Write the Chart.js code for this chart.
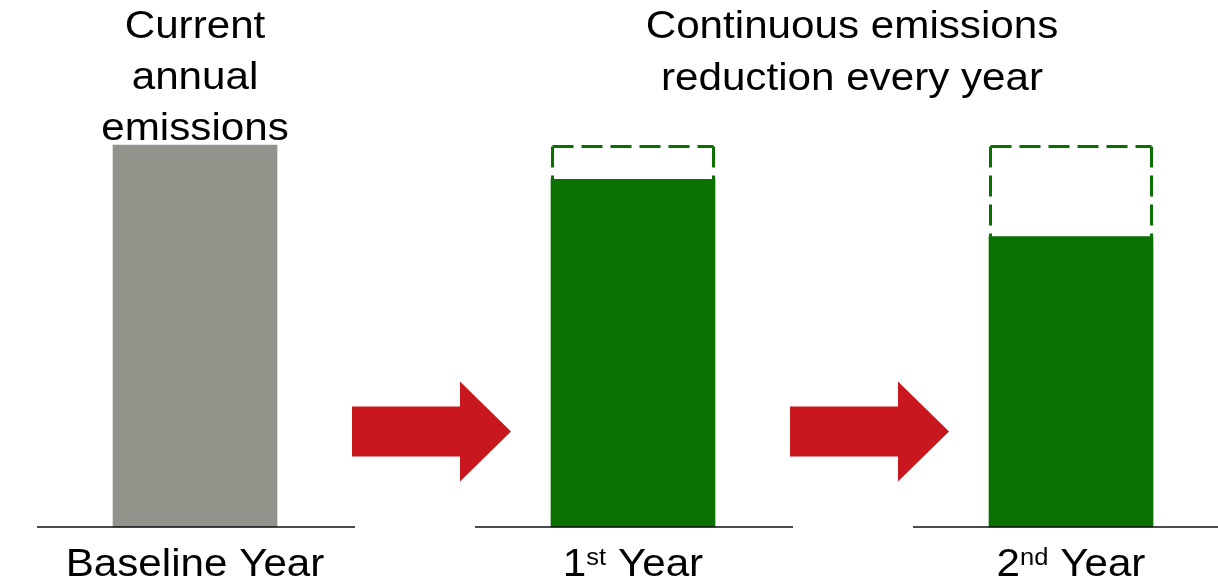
<!DOCTYPE html>
<html>
<head>
<meta charset="utf-8">
<script src="https://cdn.jsdelivr.net/npm/chart.js@4/dist/chart.umd.min.js"></script>
<style>
  html, body { margin: 0; padding: 0; background: #fff; overflow: hidden; }
</style>
</head>
<body>
<canvas id="chart" width="1218" height="584"></canvas>
<script>
// Data
const categories = ["Baseline Year", "1st Year", "2nd Year"];
const emissions = [100, 91, 76];
const baselineLevel = [null, 100, 100];
const leftTitle = ["Current", "annual", "emissions"];
const rightTitle = ["Continuous emissions", "reduction every year"];
const arrowLevel = 25;

// Colors
const grey = "#93938b";
const green = "#0a7000";
const red = "#c8171e";
const FONT = '"Liberation Sans", Arial, sans-serif';
const STRETCH = 1.11; // source text is a little wider than Liberation Sans

// draw text with a slight horizontal stretch, x = left edge
function wideText(ctx, txt, x, y) {
  ctx.save();
  ctx.translate(x, y);
  ctx.scale(STRETCH, 1);
  ctx.fillText(txt, 0, 0);
  ctx.restore();
}

const outlinePlugin = {
  id: "outline",
  beforeDatasetsDraw(chart) {
    // dashed outline showing where the baseline was
    const ctx = chart.ctx;
    const ref = chart.getDatasetMeta(1).data;
    const bars = chart.getDatasetMeta(0).data;
    ctx.save();
    ctx.strokeStyle = green;
    ctx.lineWidth = 3;
    ctx.setLineDash([21, 8]);
    ref.forEach((el, i) => {
      if (baselineLevel[i] == null) return;
      const l = el.x - el.width / 2 + 1.5;
      const r = el.x + el.width / 2 - 1.5;
      const t = el.y + 1.5;
      const b = bars[i].y;
      ctx.beginPath();
      ctx.moveTo(l, t); ctx.lineTo(r, t);
      ctx.stroke();
      ctx.beginPath();
      ctx.moveTo(l, t); ctx.lineTo(l, b);
      ctx.stroke();
      ctx.beginPath();
      ctx.moveTo(r, t); ctx.lineTo(r, b);
      ctx.stroke();
    });
    ctx.restore();
  },
  afterDraw(chart) {
    const ctx = chart.ctx;
    const xs = chart.scales.x;
    const ys = chart.scales.y;
    const y0 = ys.getPixelForValue(0);

    // ground lines under each bar
    ctx.save();
    ctx.strokeStyle = "#111";
    ctx.lineWidth = 1.3;
    categories.forEach((c, i) => {
      const x = xs.getPixelForValue(i);
      ctx.beginPath();
      ctx.moveTo(x - 158, y0);
      ctx.lineTo(Math.min(x + 160, chart.width), y0);
      ctx.stroke();
    });

    // arrows between the years
    const ay = ys.getPixelForValue(arrowLevel);
    ctx.fillStyle = red;
    for (let i = 0; i < categories.length - 1; i++) {
      const x = xs.getPixelForValue(i);
      const x0 = x + 157, x1 = x + 316, xh = x1 - 51;
      ctx.beginPath();
      ctx.moveTo(x0, ay - 25);
      ctx.lineTo(xh, ay - 25);
      ctx.lineTo(xh, ay - 50);
      ctx.lineTo(x1, ay);
      ctx.lineTo(xh, ay + 50);
      ctx.lineTo(xh, ay + 25);
      ctx.lineTo(x0, ay + 25);
      ctx.closePath();
      ctx.fill();
    }

    // titles
    ctx.fillStyle = "#000";
    ctx.textAlign = "left";
    ctx.textBaseline = "alphabetic";
    ctx.font = "38px " + FONT;
    const lx = xs.getPixelForValue(0);
    leftTitle.forEach((t, k) => {
      const w = ctx.measureText(t).width * STRETCH;
      wideText(ctx, t, lx - w / 2, 38 + k * 51);
    });
    const rx = (xs.getPixelForValue(1) + xs.getPixelForValue(2)) / 2;
    rightTitle.forEach((t, k) => {
      const w = ctx.measureText(t).width * STRETCH;
      wideText(ctx, t, rx - w / 2, 38 + k * 52);
    });

    // category labels (with ordinal superscripts)
    categories.forEach((c, i) => {
      const x = xs.getPixelForValue(i);
      const m = c.match(/^(\d+)(st|nd|rd|th)(.*)$/);
      const parts = m ? [[m[1], 38, 0], [m[2], 23, -11], [m[3], 38, 0]] : [[c, 38, 0]];
      let w = 0;
      parts.forEach(p => { ctx.font = p[1] + "px " + FONT; w += ctx.measureText(p[0]).width * STRETCH; });
      let cx = x - w / 2;
      parts.forEach(p => {
        ctx.font = p[1] + "px " + FONT;
        wideText(ctx, p[0], cx, 576 + p[2]);
        cx += ctx.measureText(p[0]).width * STRETCH;
      });
    });
    ctx.restore();
  }
};

new Chart(document.getElementById("chart"), {
  type: "bar",
  data: {
    labels: categories,
    datasets: [
      {
        label: "Annual emissions",
        data: emissions,
        backgroundColor: [grey, green, green],
        barThickness: 164,
        grouped: false,
        clip: false,
      },
      {
        label: "Baseline level",
        data: baselineLevel,
        backgroundColor: "rgba(0,0,0,0)",
        borderWidth: 0,
        barThickness: 164,
        grouped: false,
        clip: false,
      },
    ],
  },
  options: {
    responsive: false,
    animation: false,
    devicePixelRatio: 1,
    layout: { padding: { left: 195, right: 147, top: 145, bottom: 57 } },
    scales: {
      x: { type: "category", offset: false, display: false },
      y: { min: 0, max: 100, display: false },
    },
    plugins: {
      legend: { display: false },
      tooltip: { enabled: false },
    },
  },
  plugins: [outlinePlugin],
});
</script>
</body>
</html>
